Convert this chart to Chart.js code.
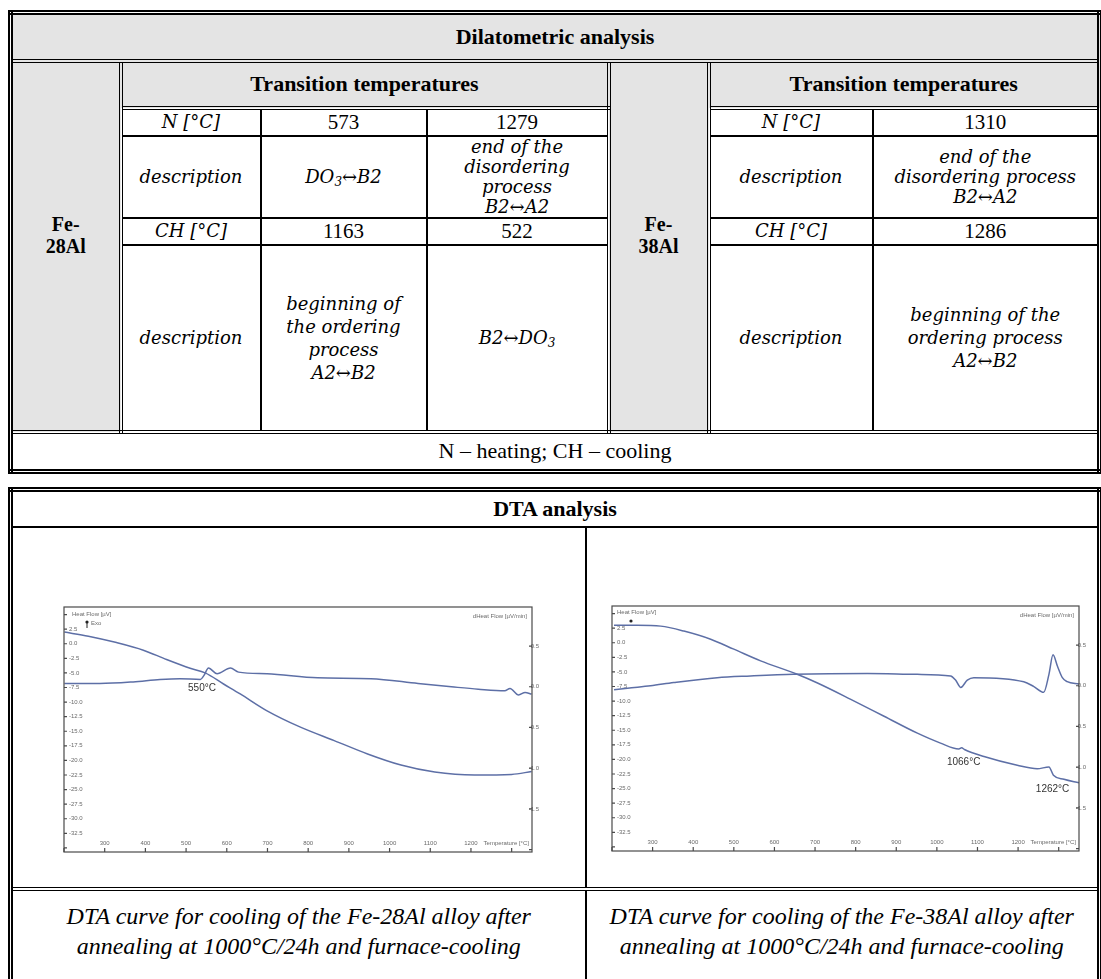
<!DOCTYPE html>
<html>
<head>
<meta charset="utf-8">
<script src="https://cdn.jsdelivr.net/npm/chart.js@4.4.0/dist/chart.umd.min.js"></script>
<style>
  body { margin: 0; width: 1101px; height: 979px; overflow: hidden; background: #fff;
         font-family: "Liberation Serif", "DejaVu Serif", "Times New Roman", serif; color: #000; }
  table { position: absolute; border-collapse: collapse; table-layout: fixed; }
  td { border: 2px solid #000; text-align: center; vertical-align: middle; padding: 0; }
  #dil { left: 8px; top: 10px; width: 1089px; border: 5px double #000; }
  #dta { left: 8px; top: 487px; width: 1089px; border: 5px double #000; }
  .g { background: #e4e4e4; }
  .head { font-weight: bold; font-size: 22px; }
  .alloy { font-size: 20px; line-height: 22px; padding-bottom: 22px; }
  .dbl { border: 4px double #000; }
  .i { font-family: "DejaVu Serif", serif; font-style: italic; font-size: 18px; line-height: 20px; }
  .tall .i { line-height: 23px; }
  .n { font-size: 21px; }
  .foot { font-size: 22px; border-top: 4px double #000; }
  .cap { font-style: italic; font-size: 24px; line-height: 30px; vertical-align: top; padding-top: 10px;
         border-top: 4px double #000; }
  sub { font-size: 12px; vertical-align: -3px; line-height: 0; }
  .plot { position: absolute; width: 492px; height: 269px; }
</style>
</head>
<body>

<table id="dil">
  <colgroup>
    <col style="width:110px"><col style="width:140px"><col style="width:166px"><col style="width:182px">
    <col style="width:100px"><col style="width:164px"><col style="width:227px">
  </colgroup>
  <tr style="height:48px"><td colspan="7" class="g head dbl">Dilatometric analysis</td></tr>
  <tr style="height:47px">
    <td rowspan="5" class="g head dbl alloy">Fe-<br>28Al</td>
    <td colspan="3" class="g head dbl">Transition temperatures</td>
    <td rowspan="5" class="g head dbl alloy">Fe-<br>38Al</td>
    <td colspan="2" class="g head dbl">Transition temperatures</td>
  </tr>
  <tr style="height:23px">
    <td class="i">N [°C]</td><td class="n">573</td><td class="n">1279</td>
    <td class="i">N [°C]</td><td class="n">1310</td>
  </tr>
  <tr style="height:82px">
    <td class="i">description</td>
    <td class="i">DO<sub>3</sub>↔B2</td>
    <td class="i">end of the<br>disordering<br>process<br>B2↔A2</td>
    <td class="i">description</td>
    <td class="i">end of the<br>disordering process<br>B2↔A2</td>
  </tr>
  <tr style="height:22px">
    <td class="i">CH [°C]</td><td class="n">1163</td><td class="n">522</td>
    <td class="i">CH [°C]</td><td class="n">1286</td>
  </tr>
  <tr class="tall" style="height:187px">
    <td class="i">description</td>
    <td class="i">beginning of<br>the ordering<br>process<br>A2↔B2</td>
    <td class="i">B2↔DO<sub>3</sub></td>
    <td class="i">description</td>
    <td class="i">beginning of the<br>ordering process<br>A2↔B2</td>
  </tr>
  <tr style="height:40px"><td colspan="7" class="foot">N – heating; CH – cooling</td></tr>
</table>

<table id="dta">
  <colgroup><col style="width:575px"><col style="width:514px"></colgroup>
  <tr style="height:37px"><td colspan="2" class="head">DTA analysis</td></tr>
  <tr style="height:362px"><td></td><td></td></tr>
  <tr style="height:100px">
    <td class="cap">DTA curve for cooling of the Fe-28Al alloy after<br>annealing at 1000°C/24h and furnace-cooling</td>
    <td class="cap">DTA curve for cooling of the Fe-38Al alloy after<br>annealing at 1000°C/24h and furnace-cooling</td>
  </tr>
</table>

<div class="plot" style="left:52px;top:595px"><canvas id="dta28"></canvas></div>
<div class="plot" style="left:600px;top:594px;width:491px"><canvas id="dta38"></canvas></div>

<script>
// Fe-28Al, heat flow [uV] against temperature [C]
const t28Heat = [201, 260, 329, 395, 452, 510, 547, 592, 633, 699, 781, 864, 946, 1028, 1111, 1209, 1300, 1349];
const heat28  = [2.0, 1.3, 0.2, -1.1, -2.7, -4.2, -5.0, -6.9, -8.6, -11.5, -14.3, -16.6, -18.9, -20.8, -22.0, -22.5, -22.4, -21.9];
// Fe-28Al, dHeat flow [uV/min]
const t28Diff = [201, 288, 370, 436, 485, 535, 544, 555, 576, 609, 629, 699, 823, 954, 1070, 1152, 1218, 1283, 1296, 1317, 1333, 1349];
const diff28  = [0.04, 0.04, 0.06, 0.09, 0.10, 0.09, 0.14, 0.23, 0.16, 0.23, 0.18, 0.16, 0.11, 0.10, 0.04, 0.0, -0.03, -0.05, -0.02, -0.10, -0.07, -0.09];

// Fe-38Al
const t38Heat = [205, 262, 320, 377, 443, 500, 566, 656, 706, 788, 870, 952, 1009, 1054, 1061, 1068, 1116, 1198, 1247, 1276, 1287, 1313, 1350];
const heat38  = [3.0, 3.0, 2.85, 2.0, 0.6, -1.1, -3.1, -5.4, -6.9, -9.7, -12.6, -15.5, -17.2, -18.2, -18.0, -18.3, -19.5, -21.0, -21.6, -21.3, -22.7, -23.4, -24.0];
const t38Diff = [205, 238, 295, 352, 459, 541, 648, 829, 952, 1034, 1046, 1059, 1075, 1091, 1214, 1239, 1263, 1276, 1286, 1297, 1309, 1321, 1350];
const diff38  = [-0.05, -0.03, 0.0, 0.04, 0.10, 0.12, 0.14, 0.15, 0.14, 0.12, 0.07, -0.02, 0.07, 0.10, 0.05, -0.01, -0.08, 0.14, 0.38, 0.24, 0.10, 0.05, 0.02];

// peak labels: text, temperature, heat flow
const notes28 = [['550°C', 539, -7.7]];
const notes38 = [['1066°C', 1066, -20.4], ['1262°C', 1285, -25.1]];

const lineColor = '#5d6fa6';
const tickFont = { family: 'Liberation Sans', size: 6 };
const tickColor = '#6a6a6a';

const dtaFrame = {
  id: 'dtaFrame',
  afterDraw(chart, args, opts) {
    const { ctx, chartArea: a, scales } = chart;
    ctx.save();
    ctx.strokeStyle = '#4a4a4a';
    ctx.lineWidth = 1.2;
    ctx.strokeRect(a.left, a.top, a.right - a.left, a.bottom - a.top);
    ctx.beginPath();
    scales.y.ticks.forEach(t => {
      const py = scales.y.getPixelForValue(t.value);
      ctx.moveTo(a.left, py); ctx.lineTo(a.left + 3, py);
    });
    scales.y1.ticks.forEach(t => {
      const py = scales.y1.getPixelForValue(t.value);
      ctx.moveTo(a.right, py); ctx.lineTo(a.right - 3, py);
    });
    scales.x.ticks.forEach(t => {
      const px = scales.x.getPixelForValue(t.value);
      ctx.moveTo(px, a.bottom); ctx.lineTo(px, a.bottom - 4);
    });
    ctx.stroke();

    ctx.fillStyle = tickColor;
    ctx.font = '6px "Liberation Sans"';
    ctx.textBaseline = 'middle';
    ctx.textAlign = 'left';
    ctx.fillText('Heat Flow [µV]', a.left + opts.hx, a.top + opts.hy);
    ctx.textAlign = 'right';
    ctx.fillText('dHeat Flow [µV/min]', a.right - 5, a.top + 9);
    ctx.fillText('Temperature [°C]', a.right - 3, a.bottom - 8.6);

    // exo marker
    ctx.fillStyle = '#222';
    ctx.beginPath();
    ctx.arc(a.left + opts.ex, a.top + opts.ey, 1.6, 0, Math.PI * 2);
    ctx.fill();
    if (opts.exo) {
      ctx.fillRect(a.left + opts.ex - 0.5, a.top + opts.ey, 1, 6);
      ctx.fillStyle = tickColor;
      ctx.textAlign = 'left';
      ctx.fillText('Exo', a.left + opts.ex + 4, a.top + opts.ey + 1);
    }

    ctx.fillStyle = '#333';
    ctx.font = '10px "Liberation Sans"';
    ctx.textAlign = 'center';
    opts.notes.forEach(n => {
      ctx.fillText(n[0], scales.x.getPixelForValue(n[1]), scales.y.getPixelForValue(n[2]));
    });
    ctx.restore();
  }
};

function dtaChart(id, heatT, heat, diffT, diff, notes, extra) {
  const pts = (xs, ys) => xs.map((x, i) => ({ x: x, y: ys[i] }));
  return new Chart(document.getElementById(id), {
    type: 'line',
    data: {
      datasets: [
        { label: 'Heat Flow', data: pts(heatT, heat), yAxisID: 'y', borderColor: lineColor,
          borderWidth: 1.5, pointRadius: 0, cubicInterpolationMode: 'monotone' },
        { label: 'dHeat Flow', data: pts(diffT, diff), yAxisID: 'y1', borderColor: lineColor,
          borderWidth: 1.5, pointRadius: 0, cubicInterpolationMode: 'monotone' }
      ]
    },
    options: {
      responsive: true,
      maintainAspectRatio: false,
      animation: false,
      layout: { padding: 12 },
      plugins: {
        legend: { display: false },
        tooltip: { enabled: false },
        dtaFrame: Object.assign({ notes: notes }, extra)
      },
      scales: {
        x: {
          type: 'linear', min: 200, max: 1350,
          grid: { display: false }, border: { display: false },
          afterFit: s => { s.height = 0; },
          ticks: { stepSize: 100, includeBounds: false, mirror: true, padding: 5, maxRotation: 0,
                   autoSkip: false, font: tickFont, color: tickColor,
                   callback: v => (v >= 300 && v <= 1200 ? String(v) : '') }
        },
        y: {
          position: 'left', min: -35.7, max: 6.3,
          grid: { display: false }, border: { display: false },
          afterFit: s => { s.width = 0; },
          ticks: { stepSize: 2.5, includeBounds: false, mirror: true, padding: 5, autoSkip: false,
                   font: tickFont, color: tickColor,
                   callback: v => (v > 2.6 || v < -33 ? '' : v.toFixed(1)) }
        },
        y1: {
          position: 'right', min: -2.03, max: 0.98,
          grid: { display: false }, border: { display: false },
          afterFit: s => { s.width = 0; },
          ticks: { stepSize: 0.5, includeBounds: false, mirror: true, padding: 7, autoSkip: false,
                   font: tickFont, color: tickColor,
                   callback: v => (v < -1.6 ? '' : v.toFixed(1)) }
        }
      }
    },
    plugins: [dtaFrame]
  });
}

dtaChart('dta28', t28Heat, heat28, t28Diff, diff28, notes28, { hx: 8, hy: 7, ex: 23, ey: 15, exo: true });
dtaChart('dta38', t38Heat, heat38, t38Diff, diff38, notes38, { hx: 5, hy: 6, ex: 19, ey: 15, exo: false });
</script>
</body>
</html>
